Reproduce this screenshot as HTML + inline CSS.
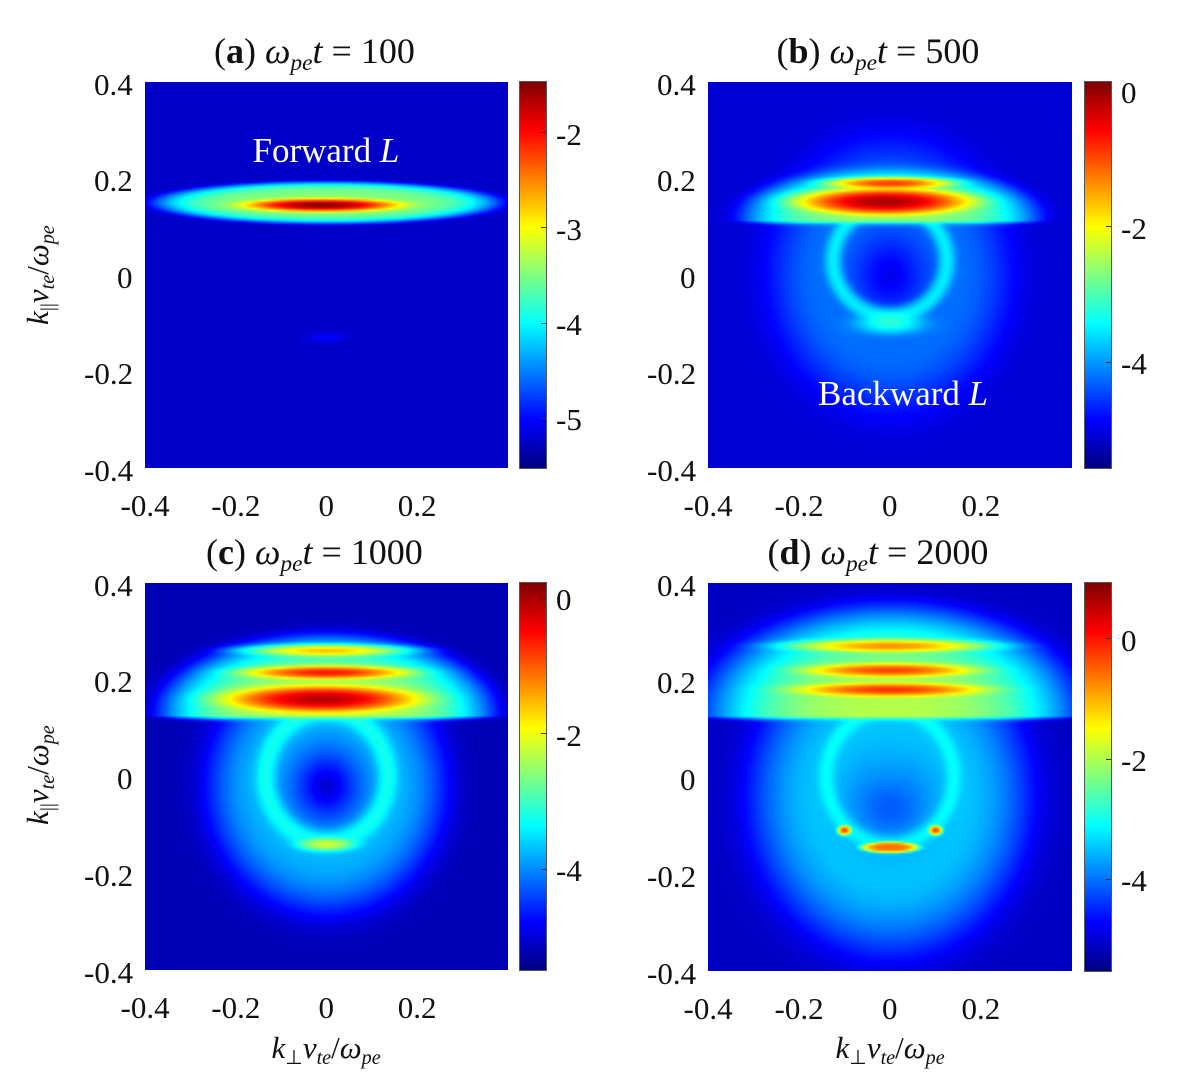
<!DOCTYPE html>
<html><head><meta charset="utf-8">
<style>
body{margin:0;background:#fff;}
#root{position:relative;width:1200px;height:1091px;background:#fff;font-family:"Liberation Serif",serif;color:#111;overflow:hidden;}
.t{position:absolute;white-space:nowrap;font-size:31px;line-height:1;}
canvas{position:absolute;}
.cb{position:absolute;background:linear-gradient(to top,#000080 0%,#0000ff 12.5%,#00ffff 37.5%,#ffff00 62.5%,#ff0000 87.5%,#800000 100%);outline:1px solid #555;}
.title{font-size:36px;}
.ann{color:#fff;font-size:35px;}
sub{font-size:65%;vertical-align:-0.3em;}
</style></head>
<body>
<div id="root"></div>
<script>
// ---- data ----
const xTicks = [-0.4, -0.2, 0, 0.2];
const yTicks = [0.4, 0.2, 0, -0.2, -0.4];
const cbTicksA = [-2, -3, -4, -5];
const cbTicksB = [0, -2, -4];
const cbTicksC = [0, -2, -4];
const cbTicksD = [0, -2, -4];
const climA = [-5.53, -1.47];
const climB = [-5.56, 0.12];
const climC = [-5.5, 0.22];
const climD = [-5.53, 0.92];
const bgA = -5.25, bgB = -5.1, bgC = -5.2, bgD = -5.1;
// features: [kind(0 blob,1 ring), k_perp0, k_par0, xw, yw, peak(log10), drop, p_or_width, cutBelow]
const featA = [
  [0, 0, 0.15, 0.39, 0.045, -3.5, 1.7, 6, -1],
  [0, -0.01, 0.145, 0.2, 0.016, -1.5, 2.2, 2, -1],
  [0, 0, -0.13, 0.06, 0.015, -5.4, 1, 2, -1]
];
const featB = [
  [1, 0, 0.0, 0.15, 0.16, -4.3, 1.3, 1.0, -1],
  [0, 0, 0.12, 0.31, 0.1, -2.7, 1.6, 4, 0.112],
  [0, -0.01, 0.152, 0.2, 0.03, -0.1, 2.4, 2, -1],
  [0, 0, 0.19, 0.15, 0.014, -0.9, 2.2, 2, -1],
  [1, 0, 0.03, 0.125, 0.115, -3.6, 1.5, 0.22, -1],
  [0, 0, -0.1, 0.1, 0.03, -3.3, 1.5, 2, -1]
];
const featC = [
  [1, 0, -0.02, 0.15, 0.15, -3.8, 1.5, 0.9, -1],
  [0, 0, 0.13, 0.34, 0.15, -2.4, 1.6, 4, 0.125],
  [0, 0, 0.26, 0.18, 0.014, -1.6, 1.8, 2, -1],
  [0, 0, 0.215, 0.2, 0.016, -0.6, 2.2, 2, -1],
  [0, -0.01, 0.16, 0.22, 0.03, -0.1, 2.2, 2, -1],
  [1, 0, 0.0, 0.135, 0.135, -3.4, 1.5, 0.25, -1],
  [0, 0, -0.14, 0.08, 0.018, -2.2, 2, 2, -1]
];
const featD = [
  [1, 0, -0.04, 0.16, 0.17, -3.5, 1.4, 1.0, -1],
  [0, 0, 0.02, 0.12, 0.12, -4.0, 1, 2, -1],
  [0, 0, 0.13, 0.37, 0.2, -2.0, 1.8, 3, 0.125],
  [0, 0, 0.27, 0.2, 0.014, -0.8, 1.6, 2, -1],
  [0, 0, 0.22, 0.2, 0.016, -0.3, 2.0, 2, -1],
  [0, 0, 0.18, 0.22, 0.016, -0.2, 2.0, 2, -1],
  [1, 0, 0.0, 0.14, 0.14, -3.3, 1.5, 0.2, -1],
  [0, 0, -0.145, 0.065, 0.012, -0.6, 2, 4, -1],
  [0, -0.1, -0.11, 0.015, 0.01, -0.3, 2, 2, -1],
  [0, 0.1, -0.11, 0.015, 0.01, -0.3, 2, 2, -1]
];

const root = document.getElementById('root');
function jet(t){
  t=Math.max(0,Math.min(1,t));
  const c=v=>Math.round(255*Math.max(0,Math.min(1,v)));
  return [c(1.5-Math.abs(4*t-3)),c(1.5-Math.abs(4*t-2)),c(1.5-Math.abs(4*t-1))];
}
function field(x,y,bg,feats){
  let s=Math.pow(10,bg);
  for(const f of feats){
    const dx=(x-f[1])/f[3], dy=(y-f[2])/f[4];
    let v;
    if(f[0]===0){const r=Math.sqrt(dx*dx+dy*dy); v=f[5]-f[6]*Math.pow(r,f[7]);}
    else{const d=Math.sqrt(dx*dx+dy*dy); const r=Math.abs(d-1)/f[7]; v=f[5]-f[6]*r*r;}
    if(f[8]>-1 && y<f[8]) v-=(f[8]-y)*200;
    s+=Math.pow(10,v);
  }
  return Math.log10(s);
}
function txt(html,x,y,cls,name,align){
  const d=document.createElement('div');
  d.className='t '+(cls||'');
  d.innerHTML=html;
  
  
  root.appendChild(d);
  const w=d.offsetWidth,h=d.offsetHeight;
  let l=x; if(align==='c') l=x-w/2; else if(align==='r') l=x-w;
  d.style.left=l+'px'; d.style.top=(y-h/2)+'px';
  return d;
}
function panel(id,px,py,pw,ph,cbx,bg,feats,clim,cbTicks,title){
  const W=182,H=194;
  const cv=document.createElement('canvas');
  cv.width=W;cv.height=H;
  cv.style.left=px+'px';cv.style.top=py+'px';cv.style.width=pw+'px';cv.style.height=ph+'px';
  
  
  root.appendChild(cv);
  const ctx=cv.getContext('2d');const img=ctx.createImageData(W,H);
  for(let j=0;j<H;j++)for(let i=0;i<W;i++){
    const x=-0.4+0.8*(i+0.5)/W, y=0.4-0.8*(j+0.5)/H;
    const v=field(x,y,bg,feats);
    const c=jet((v-clim[0])/(clim[1]-clim[0]));
    const k=4*(j*W+i);img.data[k]=c[0];img.data[k+1]=c[1];img.data[k+2]=c[2];img.data[k+3]=255;
  }
  ctx.putImageData(img,0,0);
  const sx=v=>px+(v+0.4)/0.8*pw, sy=v=>py+(0.4-v)/0.8*ph;
  yTicks.forEach(v=>txt(v===0?'0':String(v),px-12,sy(v)+2,'','y-tick-label','r'));
  xTicks.forEach(v=>txt(v===0?'0':String(v),sx(v),py+ph+37,'','x-tick-label','c'));
  const cb=document.createElement('div');cb.className='cb';
  cb.style.left=cbx+'px';cb.style.top=py+'px';cb.style.width='26px';cb.style.height=ph+'px';
  
  
  root.appendChild(cb);
  cbTicks.forEach(v=>{
    const y=py+(clim[1]-v)/(clim[1]-clim[0])*ph;
    const tk=document.createElement('div');
    tk.style.cssText='position:absolute;left:'+(cbx+21)+'px;top:'+y+'px;width:5px;height:1px;background:#333';
    
    
    root.appendChild(tk);
    txt(String(v),cbx+36,y+2,'','colorbar-tick-label','l');
  });
  txt(title,px+pw/2-12,py-28,'title','panel-title-'+id,'c');
}
const omega='<i>ω</i><sub><i>pe</i></sub><i>t</i> = ';
panel('a',145,82,363,386,520,bgA,featA,climA,cbTicksA,'(<b>a</b>) '+omega+'100');
panel('b',708,82,364,386,1085,bgB,featB,climB,cbTicksB,'(<b>b</b>) '+omega+'500');
panel('c',145,583,363,387,520,bgC,featC,climC,cbTicksC,'(<b>c</b>) '+omega+'1000');
panel('d',708,583,364,388,1085,bgD,featD,climD,cbTicksD,'(<b>d</b>) '+omega+'2000');
txt('Forward <i>L</i>',326,150,'ann','annotation-forward-l','c');
txt('Backward <i>L</i>',903,393,'ann','annotation-backward-l','c');
const xl='<i>k</i><sub>⊥</sub><i>v</i><sub><i>te</i></sub>/<i>ω</i><sub><i>pe</i></sub>';
txt(xl,326,1050,'','x-axis-title-c','c');
txt(xl,890,1050,'','x-axis-title-d','c');
const yl='<i>k</i><sub>||</sub><i>v</i><sub><i>te</i></sub>/<i>ω</i><sub><i>pe</i></sub>';
[275,775].forEach((cy,i)=>{
  const d=txt(yl,40,cy,'','y-axis-title-'+(i?'c':'a'),'c');
  d.style.transform='rotate(-90deg)';
});
</script>
</body></html>
